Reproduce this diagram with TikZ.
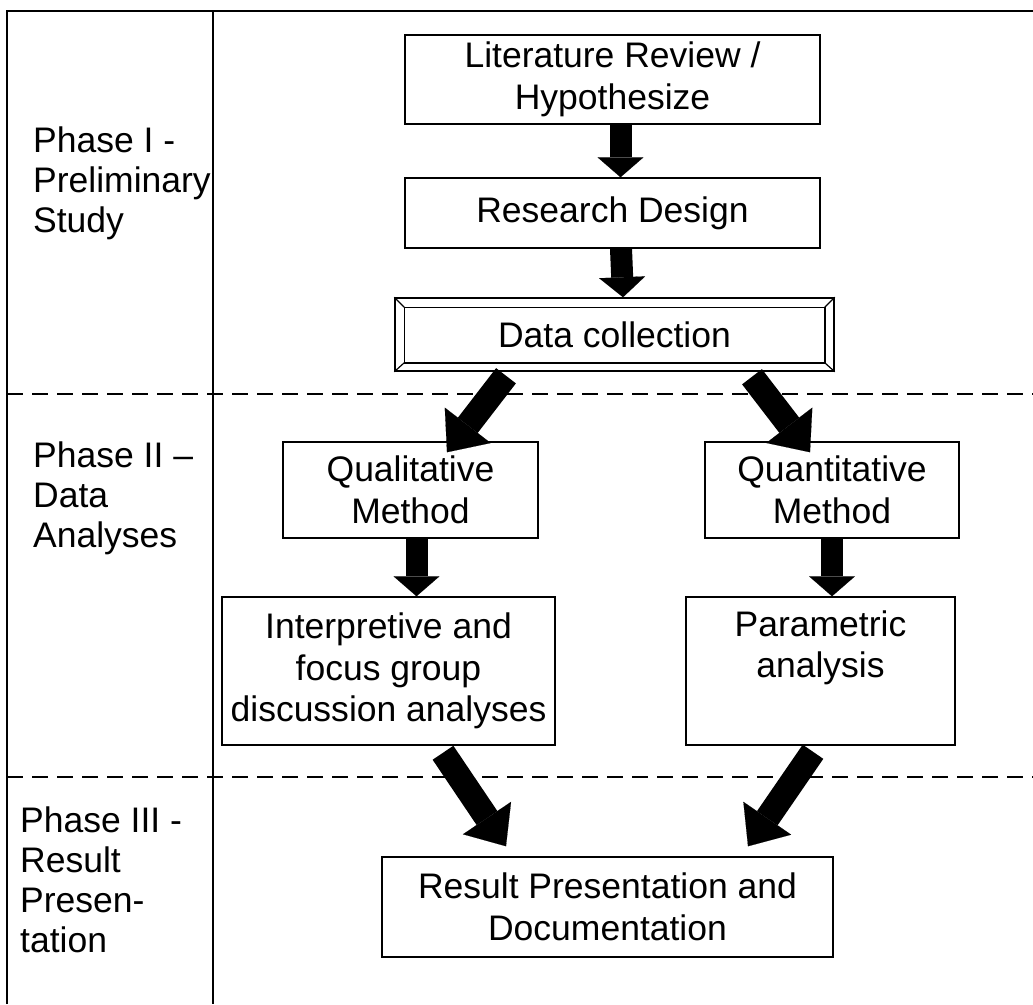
\documentclass[tikz,border=0pt]{standalone}
\usepackage{fontspec}
\setmainfont{Liberation Sans}
\usetikzlibrary{arrows.meta}
\begin{document}
\begin{tikzpicture}[x=1pt,y=-1pt,
  box/.style={draw, line width=1.5pt, align=center, inner sep=0pt, font=\fontsize{35.5}{41.5}\selectfont},
  phaselabel/.style={anchor=west, align=left, inner sep=0pt, font=\fontsize{35.5}{40}\selectfont},
  frameline/.style={line width=2.2pt},
  sepline/.style={line width=2pt, dash pattern=on 16pt off 9pt},
  diagarrow/.style={line width=25pt, -{Triangle[width=58pt,length=34pt,line width=0.1pt]}},
  vertarrow/.style={line width=22pt, -{Triangle[width=46pt,length=20pt,line width=0.1pt]}}]
\useasboundingbox (0,0) rectangle (1033,1004);
\fill[white] (0,0) rectangle (1033,1004);

% frame
\coordinate (ftl) at (7,11);
\coordinate (ftr) at (1033,11);
\coordinate (fbl) at (7,1004);
\coordinate (dtop) at (213,11);
\coordinate (dbot) at (213,1004);
\coordinate (s1l) at (7,394);
\coordinate (s1r) at (1033,394);
\coordinate (s2l) at (7,777);
\coordinate (s2r) at (1033,777);
\draw[frameline] (fbl) -- (ftl) -- (ftr);
\draw[frameline] (dtop) -- (dbot);
\draw[sepline] (s1l) -- (s1r);
\draw[sepline] (s2l) -- (s2r);

% phase labels
\node[phaselabel] (p1) at (33,183) {Phase I -\\Preliminary\\Study};
\node[phaselabel] (p2) at (33,498) {Phase II –\\Data\\Analyses};
\node[phaselabel] (p3) at (20,880) {Phase III -\\Result\\Presen-\\tation};

% boxes
\node[box, minimum width=415pt, minimum height=89pt] (lit) at (612.5,79.5) {Literature Review /\\Hypothesize};
\node[box, minimum width=415pt, minimum height=70pt] (rd) at (612.5,213) {Research Design};
\node[box, minimum width=439pt, minimum height=73pt] (dc) at (614.5,334.5) {Data collection};
\coordinate (dci1) at ([xshift=10pt,yshift=-10pt]dc.north west);
\coordinate (dci2) at ([xshift=-10pt,yshift=-10pt]dc.north east);
\coordinate (dci3) at ([xshift=-10pt,yshift=9pt]dc.south east);
\coordinate (dci4) at ([xshift=10pt,yshift=9pt]dc.south west);
\draw[line width=1.5pt] (dci1) -- (dci2) -- (dci3) -- (dci4) -- cycle;
\draw[line width=1.2pt] (dc.north west) -- (dci1) (dc.north east) -- (dci2) (dc.south east) -- (dci3) (dc.south west) -- (dci4);

\node[box, minimum width=255pt, minimum height=96pt] (qual) at (410.5,490) {Qualitative\\Method};
\node[box, minimum width=254pt, minimum height=96pt] (quant) at (832,490) {Quantitative\\Method};
\node[box, minimum width=333pt, minimum height=148pt] (interp) at (388.5,671) {Interpretive and\\focus group\\discussion analyses};
\node[box, minimum width=269pt, minimum height=148pt] (param) at (820.5,671) {Parametric\\analysis\\\strut};
\node[box, minimum width=451pt, minimum height=100pt] (res) at (607.5,907) {Result Presentation and\\Documentation};

% vertical arrows
\draw[vertarrow] ([xshift=8pt]lit.south) -- ([xshift=8pt]rd.north);
\draw[vertarrow] ([xshift=8.5pt]rd.south) -- ([xshift=8.5pt]dc.north);
\draw[vertarrow] ([xshift=6pt]qual.south) -- ([xshift=6pt]qual.south |- interp.north);
\draw[vertarrow] (quant.south) -- (quant.south |- param.north);

% diagonal arrows
\draw[diagarrow] ([xshift=-108.5pt,yshift=-4pt]dc.south) -- ([xshift=36.5pt,yshift=-11pt]qual.north);
\draw[diagarrow] ([xshift=137.5pt,yshift=-5pt]dc.south) -- ([xshift=-22pt,yshift=-11pt]quant.north);
\draw[diagarrow] ([xshift=54.5pt,yshift=-7pt]interp.south) -- ([xshift=-101.5pt,yshift=10pt]res.north);
\draw[diagarrow] ([xshift=-7.5pt,yshift=-6pt]param.south) -- ([xshift=140.5pt,yshift=10pt]res.north);
\end{tikzpicture}
\end{document}
